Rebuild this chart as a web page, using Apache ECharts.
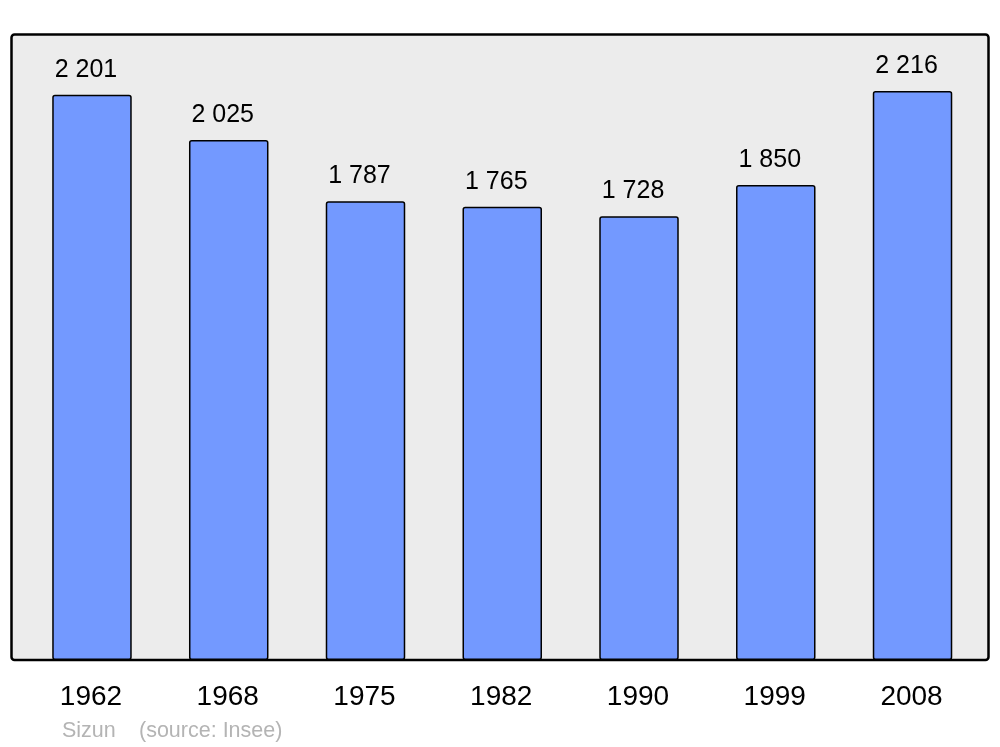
<!DOCTYPE html>
<html><head><meta charset="utf-8">
<script src="https://cdn.jsdelivr.net/npm/echarts@6/dist/echarts.min.js"></script>
<style>html,body{margin:0;padding:0;background:#fff}#c{width:1000px;height:747px}</style>
</head><body><div id="c"></div>
<script>
const years = ['1962','1968','1975','1982','1990','1999','2008'];
const population = [2201, 2025, 1787, 1765, 1728, 1850, 2216];
const sourceName = 'Sizun';
const sourceNote = '(source: Insee)';

function fmt(v){ return String(v).replace(/\B(?=(\d{3})+(?!\d))/g, ' '); }

const chart = echarts.init(document.getElementById('c'), null, {renderer:'canvas'});
const FONT = '"Liberation Sans", Arial, sans-serif';
chart.setOption({
  animation: false,
  backgroundColor: '#ffffff',
  grid: { left: 23.6, right: 19.1, top: 34, bottom: 87, containLabel: false },
  xAxis: {
    type: 'category', data: years,
    axisLine: { show: false }, axisTick: { show: false },
    axisLabel: { fontSize: 28, color: '#000', fontFamily: FONT, margin: 23, padding: [0, 2, 0, 0] }
  },
  yAxis: { type: 'value', min: 0, max: 2438, show: false, splitLine: { show: false } },
  graphic: [
    { type: 'rect', z: -10, shape: { x: 11.5, y: 34.5, width: 977, height: 625.5, r: 3 },
      style: { fill: '#ececec', stroke: '#000', lineWidth: 2.5 } },
    { type: 'text', left: 62, top: 720, style: { text: sourceName, fontSize: 21.5, fill: '#b4b4b4', fontFamily: FONT } },
    { type: 'text', left: 139, top: 720, style: { text: sourceNote, fontSize: 21.5, fill: '#b4b4b4', fontFamily: FONT } }
  ],
  series: [{
    type: 'bar', data: population, barWidth: 79.5,
    itemStyle: { color: '#7399ff', borderColor: '#000', borderWidth: 1.5, borderRadius: 2 },
    label: { show: true, position: 'top', distance: 12.5, offset: [-6, 0], fontSize: 25, color: '#000', fontFamily: FONT,
      formatter: p => fmt(p.value) }
  }]
});
</script></body></html>
